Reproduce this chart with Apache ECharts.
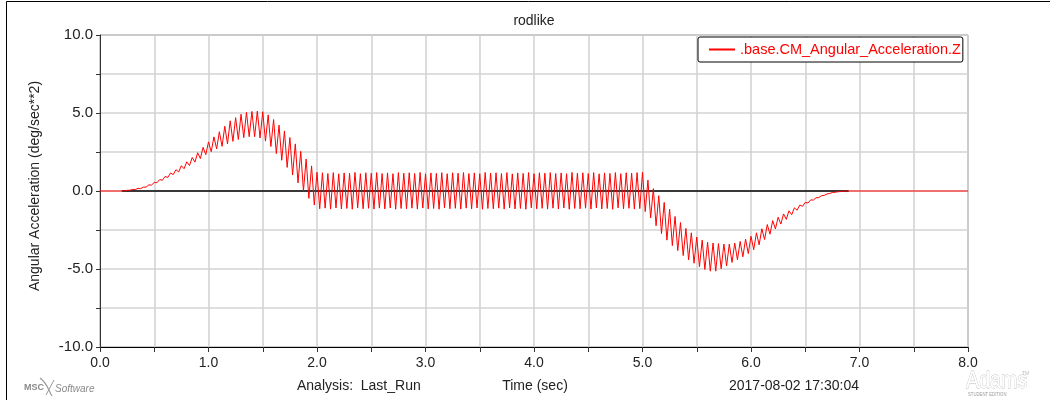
<!DOCTYPE html>
<html>
<head>
<meta charset="utf-8">
<script src="https://cdn.jsdelivr.net/npm/echarts@6/dist/echarts.min.js"></script>
<style>
  html, body { margin: 0; padding: 0; background: #ffffff; }
  #chart { width: 1055px; height: 400px; }
</style>
</head>
<body>
<div id="chart"></div>
<script>
// ---- text ----
const chartTitle = 'rodlike';
const seriesName = '.base.CM_Angular_Acceleration.Z';
const yAxisTitle = 'Angular Acceleration (deg/sec**2)';
const xAxisTitle = 'Time (sec)';
const analysisText = 'Analysis:  Last_Run';
const stampText = '2017-08-02 17:30:04';

// ---- tick labels ----
const xTickLabels = ['0.0', '1.0', '2.0', '3.0', '4.0', '5.0', '6.0', '7.0', '8.0'];
const yTickLabels = ['-10.0', '-5.0', '0.0', '5.0', '10.0'];

// ---- sampled signal (deg/sec**2), one sample every half oscillation ----
const sampleStart = 0.2;   // sec, first sample
const sampleStep = 0.025;  // sec between samples

// 0.200 .. 2.000 s : rising hump with growing ripple
const riseValues = [
  0.00, 0.01, 0.045, 0.05, 0.10, 0.09, 0.17, 0.15, 0.25, 0.25,
  0.39, 0.38, 0.55, 0.53, 0.73, 0.69, 0.93, 0.87, 1.15, 1.05,
  1.37, 1.22, 1.62, 1.43, 1.87, 1.63, 2.15, 1.85, 2.45, 2.08,
  2.80, 2.33, 3.15, 2.52, 3.47, 2.70, 3.80, 2.86, 4.15, 3.02,
  4.50, 3.18, 4.70, 3.30, 4.92, 3.42, 5.04, 3.48, 5.10, 3.48,
  5.12, 3.40, 5.08, 3.20, 4.88, 2.85, 4.58, 2.40, 4.22, 1.97,
  3.85, 1.51, 3.43, 1.02, 3.02, 0.52, 2.54, 0.01, 2.05, -0.47,
  1.61, -0.90, 1.20
];

// 2.025 .. 5.000 s : steady ripple about zero
const plateauValues = [
  -1.14, 1.17, -1.10, 1.12, -1.16, 1.18, -1.09, 1.10, -1.15, 1.16,
  -1.12, 1.13, -1.17, 1.19, -1.08, 1.11, -1.14, 1.17, -1.11, 1.14,
  -1.16, 1.18, -1.10, 1.12, -1.15, 1.16, -1.09, 1.11, -1.17, 1.18,
  -1.12, 1.14, -1.14, 1.17, -1.10, 1.12, -1.16, 1.19, -1.09, 1.10,
  -1.15, 1.16, -1.12, 1.13, -1.17, 1.18, -1.08, 1.11, -1.14, 1.17,
  -1.11, 1.14, -1.16, 1.18, -1.10, 1.12, -1.15, 1.16, -1.09, 1.11,
  -1.17, 1.19, -1.12, 1.14, -1.14, 1.17, -1.10, 1.12, -1.16, 1.18,
  -1.09, 1.10, -1.15, 1.16, -1.12, 1.13, -1.17, 1.18, -1.08, 1.11,
  -1.14, 1.17, -1.11, 1.14, -1.16, 1.18, -1.10, 1.12, -1.15, 1.16,
  -1.09, 1.11, -1.17, 1.19, -1.12, 1.14, -1.14, 1.17, -1.10, 1.12,
  -1.16, 1.18, -1.09, 1.10, -1.15, 1.16, -1.12, 1.13, -1.17, 1.18,
  -1.08, 1.11, -1.14, 1.17, -1.11, 1.14, -1.16, 1.18, -1.13, 1.20
];

// 5.025 .. 6.900 s : negative hump with decaying ripple
const fallValues = [
  -1.32, 0.70, -1.73, 0.15, -2.23, -0.30, -2.73, -0.73, -3.15, -1.17,
  -3.50, -1.63, -3.82, -2.02, -4.14, -2.40, -4.41, -2.68, -4.63, -2.95,
  -4.85, -3.15, -5.03, -3.28, -5.14, -3.33, -5.14, -3.37, -4.98, -3.40,
  -4.80, -3.40, -4.58, -3.34, -4.41, -3.23, -4.22, -3.08, -4.01, -2.90,
  -3.76, -2.68, -3.45, -2.42, -3.11, -2.15, -2.77, -1.90, -2.43, -1.68,
  -2.12, -1.47, -1.82, -1.27, -1.52, -1.08, -1.23, -0.90, -0.98, -0.73,
  -0.77, -0.57, -0.58, -0.43, -0.42, -0.30, -0.28, -0.19, -0.16, -0.10,
  -0.08, -0.05, -0.03, -0.01, 0.00, 0.00
];

// quiet stretches before and after the motion
const restStart = [[0.0, 0]];
const restEnd = [[8.0, 0]];

// ---- assemble series data ----
const sampled = riseValues.concat(plateauValues, fallValues)
  .map((v, i) => [+(sampleStart + i * sampleStep).toFixed(3), v]);
const signalData = restStart.concat(sampled, restEnd);

// black zero reference, visible where the curve leaves zero
const zeroLine = [[sampled[0][0], 0], [sampled[sampled.length - 1][0], 0]];

const FONT = '"Liberation Sans", Arial, Helvetica, sans-serif';
const GRID_LINE = { color: '#d3d3d3', width: 1.6 };

const chart = echarts.init(document.getElementById('chart'), null, { renderer: 'canvas' });

chart.setOption({
  animation: false,
  backgroundColor: '#ffffff',
  textStyle: { fontFamily: FONT },
  grid: {
    left: 100, right: 87, top: 35, bottom: 53,
    show: true, borderColor: '#666666', borderWidth: 1
  },
  legend: {
    data: [seriesName],
    left: 698, top: 37,
    padding: [5, 2, 5, 11],
    backgroundColor: '#ffffff',
    borderColor: '#000000', borderWidth: 1, borderRadius: 2,
    icon: 'rect', itemWidth: 26, itemHeight: 2,
    itemStyle: { color: '#ff0000' },
    textStyle: { color: '#ff0000', fontSize: 14.5, fontFamily: FONT },
    selectedMode: false,
    zlevel: 2
  },
  xAxis: {
    type: 'value', min: 0, max: 8, interval: 0.5,
    axisLine: { show: true, onZero: false, lineStyle: { color: '#000000', width: 1 } },
    axisTick: { show: true, length: 5, lineStyle: { color: '#333333' } },
    axisLabel: {
      margin: 9, fontSize: 14, color: '#222222', fontFamily: FONT,
      showMinLabel: true, showMaxLabel: true,
      formatter: v => (Math.abs(v - Math.round(v)) < 1e-9 ? xTickLabels[Math.round(v)] : '')
    },
    splitLine: { show: true, lineStyle: GRID_LINE }
  },
  yAxis: {
    type: 'value', min: -10, max: 10, interval: 2.5,
    axisLine: { show: true, onZero: false, lineStyle: { color: '#333333', width: 1 } },
    axisTick: { show: true, length: 4, lineStyle: { color: '#333333' } },
    axisLabel: {
      margin: 7, fontSize: 15, color: '#222222', fontFamily: FONT,
      formatter: v => (v % 5 === 0 ? yTickLabels[(v + 10) / 5] : '')
    },
    splitLine: { show: true, lineStyle: GRID_LINE }
  },
  series: [
    {
      name: 'zero',
      type: 'line',
      data: zeroLine,
      symbol: 'none',
      silent: true,
      lineStyle: { color: '#000000', width: 1.5 },
      zlevel: 0,
      z: 2
    },
    {
      name: seriesName,
      type: 'line',
      data: signalData,
      symbol: 'none',
      smooth: false,
      lineStyle: { color: '#ff0000', width: 1 },
      itemStyle: { color: '#ff0000' },
      zlevel: 1,
      z: 2
    }
  ],
  graphic: [
    // outer frame
    { type: 'line', shape: { x1: 6.5, y1: 1.5, x2: 1050, y2: 1.5 }, style: { stroke: '#000000', lineWidth: 1 }, silent: true },
    { type: 'line', shape: { x1: 6.5, y1: 1.5, x2: 6.5, y2: 400 }, style: { stroke: '#000000', lineWidth: 1 }, silent: true },
    // title
    { type: 'text', x: 534, y: 21, silent: true,
      style: { text: chartTitle, fill: '#222222', font: '14px ' + FONT, align: 'center', verticalAlign: 'middle' } },
    // y axis title
    { type: 'text', x: 35, y: 186, rotation: Math.PI / 2, silent: true,
      style: { text: yAxisTitle, fill: '#222222', font: '14px ' + FONT, align: 'center', verticalAlign: 'middle' } },
    // footer
    { type: 'text', x: 297, y: 386, silent: true,
      style: { text: analysisText, fill: '#222222', font: '14px ' + FONT, align: 'left', verticalAlign: 'middle' } },
    { type: 'text', x: 535, y: 386, silent: true,
      style: { text: xAxisTitle, fill: '#222222', font: '14px ' + FONT, align: 'center', verticalAlign: 'middle' } },
    { type: 'text', x: 729, y: 386, silent: true,
      style: { text: stampText, fill: '#222222', font: '14px ' + FONT, align: 'left', verticalAlign: 'middle' } },
    // MSC Software mark
    { type: 'text', x: 24, y: 388, silent: true,
      style: { text: 'MSC', fill: '#8a8a8a', font: 'bold 9px ' + FONT, align: 'left', verticalAlign: 'middle' } },
    { type: 'bezierCurve', silent: true,
      shape: { x1: 40, y1: 378, x2: 52, y2: 396, cpx1: 48, cpy1: 384, cpx2: 48, cpy2: 390 },
      style: { stroke: '#9a9a9a', lineWidth: 1.2, fill: null } },
    { type: 'line', silent: true, shape: { x1: 46, y1: 395, x2: 54, y2: 380 },
      style: { stroke: '#9a9a9a', lineWidth: 1 } },
    { type: 'text', x: 55, y: 389, silent: true,
      style: { text: 'Software', fill: '#8a8a8a', font: 'italic 10px ' + FONT, align: 'left', verticalAlign: 'middle' } },
    // Adams student edition mark
    { type: 'text', x: 966, y: 381, scaleX: 0.82, silent: true,
      style: { text: 'Adams', fill: '#ffffff', stroke: '#bdbdbd', lineWidth: 0.8, font: '24px ' + FONT, align: 'left', verticalAlign: 'middle' } },
    { type: 'text', x: 1022, y: 374, silent: true,
      style: { text: 'TM', fill: '#bdbdbd', font: '5px ' + FONT, align: 'left', verticalAlign: 'middle' } },
    { type: 'text', x: 968, y: 395, scaleX: 0.85, silent: true,
      style: { text: 'STUDENT EDITION', fill: '#9a9a9a', font: '5px ' + FONT, align: 'left', verticalAlign: 'middle' } }
  ]
});
</script>
</body>
</html>
